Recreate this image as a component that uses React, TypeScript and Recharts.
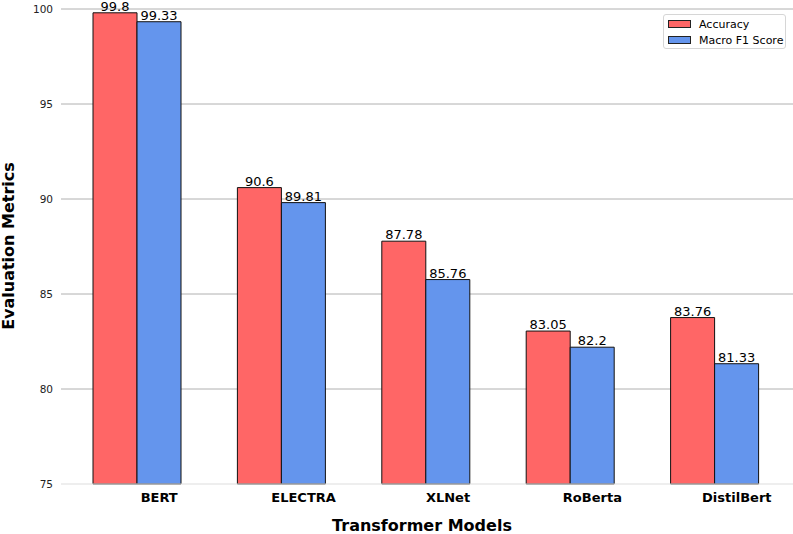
import React from "react";
import {
  BarChart,
  Bar,
  XAxis,
  YAxis,
  CartesianGrid,
  ReferenceLine,
  LabelList,
  Legend,
  Label,
} from "recharts";

const models = ["BERT", "ELECTRA", "XLNet", "RoBerta", "DistilBert"];
const accuracy = [99.8, 90.6, 87.78, 83.05, 83.76];
const macroF1 = [99.33, 89.81, 85.76, 82.2, 81.33];
const yTicks = [75, 80, 85, 90, 95, 100];

const data = models.map((name, i) => ({
  name,
  accuracy: accuracy[i],
  macroF1: macroF1[i],
}));

const FONT = "DejaVu Sans, sans-serif";
const RED = "#ff6666";
const BLUE = "#6495ed";

// matplotlib put the tick under the second bar of each group
const CategoryTick = (props: any) => {
  const { x, y, payload } = props;
  return (
    <text
      x={x + 22}
      y={y + 18}
      textAnchor="middle"
      fontFamily={FONT}
      fontWeight="bold"
      fontSize={13}
      fill="#000"
    >
      {payload.value}
    </text>
  );
};

const LegendBox = () => (
  <div
    style={{
      width: 121,
      height: 33,
      border: "1px solid #d6d6d6",
      borderRadius: 3,
      background: "#fff",
      fontFamily: FONT,
      fontSize: 11,
      color: "#000",
      boxSizing: "content-box",
    }}
  >
    {[
      { label: "Accuracy", color: RED },
      { label: "Macro F1 Score", color: BLUE },
    ].map((item, i) => (
      <div
        key={item.label}
        style={{
          display: "flex",
          alignItems: "center",
          height: 16,
          marginTop: i === 0 ? 1 : 0,
        }}
      >
        <span
          style={{
            display: "inline-block",
            width: 21,
            height: 6,
            marginLeft: 4,
            marginRight: 8,
            background: item.color,
            border: "1px solid #222",
          }}
        />
        <span>{item.label}</span>
      </div>
    ))}
  </div>
);

export default function App() {
  return (
    <div style={{ position: "absolute", left: 0, top: 0, width: 793, height: 534 }}>
      <BarChart
        width={793}
        height={534}
        data={data}
        margin={{ top: 9, right: 0, bottom: 0, left: 0 }}
        barSize={44}
        barGap={0}
      >
        <CartesianGrid
          vertical={false}
          horizontalValues={[80, 85, 90, 95, 100]}
          stroke="#b0b0b0"
          strokeWidth={1}
        />
        <ReferenceLine y={75} stroke="#dddddd" strokeWidth={1} />
        <XAxis
          dataKey="name"
          height={50}
          padding={{ left: 4, right: 6 }}
          axisLine={false}
          tickLine={false}
          tickSize={0}
          tickMargin={0}
          tick={<CategoryTick />}
          interval={0}
        >
          <Label
            content={() => (
              <text
                x={422}
                y={531}
                textAnchor="middle"
                fontFamily={FONT}
                fontWeight="bold"
                fontSize={16}
                fill="#000"
              >
                Transformer Models
              </text>
            )}
          />
        </XAxis>
        <YAxis
          width={61}
          domain={[75, 100]}
          ticks={yTicks}
          axisLine={false}
          tickLine={false}
          tickSize={0}
          tickMargin={8}
          tick={{ fontFamily: FONT, fontSize: 10.5, fill: "#222" }}
        >
          <Label
            content={() => (
              <text
                transform="translate(14,246) rotate(-90)"
                textAnchor="middle"
                fontFamily={FONT}
                fontWeight="bold"
                fontSize={16}
                fill="#000"
              >
                Evaluation Metrics
              </text>
            )}
          />
        </YAxis>
        <Legend
          layout="horizontal"
          align="center"
          verticalAlign="middle"
          content={<LegendBox />}
          wrapperStyle={{ position: "absolute", top: 14, left: 663, width: 123 }}
        />
        <Bar
          dataKey="accuracy"
          name="Accuracy"
          fill={RED}
          stroke="#111"
          strokeWidth={1}
          isAnimationActive={false}
        >
          <LabelList
            dataKey="accuracy"
            position="top"
            offset={2}
            style={{ fontFamily: FONT, fontSize: 13, fill: "#000" }}
          />
        </Bar>
        <Bar
          dataKey="macroF1"
          name="Macro F1 Score"
          fill={BLUE}
          stroke="#111"
          strokeWidth={1}
          isAnimationActive={false}
        >
          <LabelList
            dataKey="macroF1"
            position="top"
            offset={2}
            style={{ fontFamily: FONT, fontSize: 13, fill: "#000" }}
          />
        </Bar>
      </BarChart>
    </div>
  );
}
